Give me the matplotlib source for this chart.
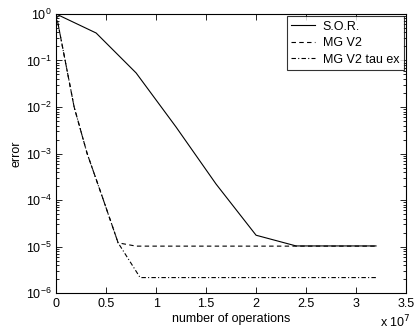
import matplotlib
matplotlib.use('Agg')
import matplotlib.pyplot as plt
import numpy as np
from matplotlib.ticker import LogLocator, NullFormatter, FixedLocator

plt.rcParams['font.family'] = ['Liberation Sans', 'DejaVu Sans']

# number of operations (units of 1e7) and error
sor_ops = [0, 0.4, 0.8, 1.2, 1.6, 2.0, 2.4, 2.8, 3.2]
sor_err = [1.0, 0.39, 0.054, 3.7e-3, 2.2e-4, 1.75e-5, 1.03e-5, 1.03e-5, 1.03e-5]

mg_ops = [0, 0.18, 0.31, 0.46, 0.62, 0.8, 1.6, 2.4, 3.2]
mg_err = [1.0, 1.0e-2, 1.0e-3, 1.2e-4, 1.2e-5, 1.02e-5, 1.02e-5, 1.02e-5, 1.02e-5]

mgtau_ops = [0, 0.18, 0.31, 0.46, 0.62, 0.84, 1.6, 2.4, 3.2]
mgtau_err = [1.0, 1.0e-2, 1.0e-3, 1.2e-4, 1.2e-5, 2.15e-6, 2.15e-6, 2.15e-6, 2.15e-6]

fig = plt.figure(figsize=(4.19, 3.33), dpi=100)
ax = fig.add_axes([0.134, 0.120, 0.835, 0.838])

ax.semilogy(sor_ops, sor_err, 'k-', lw=0.8, label='S.O.R.')
ax.semilogy(mg_ops, mg_err, 'k--', lw=0.8, dashes=(4, 3), label='MG V2')
ax.semilogy(mgtau_ops, mgtau_err, 'k-.', lw=0.8, dashes=(4, 2, 1, 2), label='MG V2 tau ex')

ax.set_xlim(0, 3.5)
ax.set_ylim(1e-6, 1)
ax.xaxis.set_major_locator(FixedLocator(np.arange(0, 3.51, 0.5)))
ax.set_xticklabels(['0', '0.5', '1', '1.5', '2', '2.5', '3', '3.5'])
ax.yaxis.set_major_locator(LogLocator(base=10, numticks=10))
ax.yaxis.set_minor_locator(LogLocator(base=10, subs=np.arange(2, 10), numticks=10))
ax.yaxis.set_minor_formatter(NullFormatter())

ax.tick_params(which='both', direction='in', top=True, right=True, labelsize=9, width=0.6)
ax.tick_params(which='major', length=4)
ax.tick_params(which='minor', length=2)
for s in ax.spines.values():
    s.set_linewidth(0.8)

ax.set_xlabel('number of operations', fontsize=9, labelpad=2)
ax.set_ylabel('error', fontsize=9, labelpad=2)
fig.text(395 / 419, 1 - 322 / 333, 'x 10$^7$', ha='center', va='center', fontsize=9)

leg = ax.legend(loc='upper right', fontsize=9, frameon=True, fancybox=False,
                handlelength=1.9, borderaxespad=0.2, labelspacing=0.35,
                borderpad=0.35, handletextpad=0.6)
leg.get_frame().set_edgecolor('black')
leg.get_frame().set_linewidth(0.8)

fig.savefig('out.png', dpi=100)
